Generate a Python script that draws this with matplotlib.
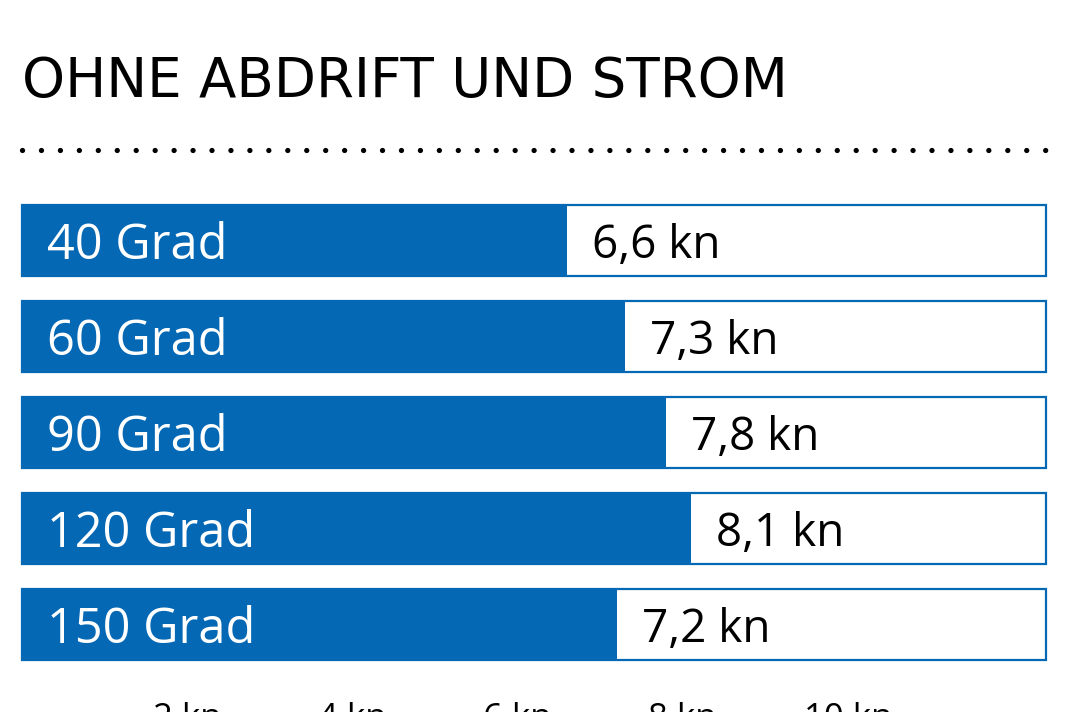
import matplotlib
matplotlib.use('Agg')
import matplotlib.pyplot as plt
from matplotlib.lines import Line2D

# Daten: Geschwindigkeit je Windeinfallswinkel
labels = ['40 Grad', '60 Grad', '90 Grad', '120 Grad', '150 Grad']
speeds = [6.6, 7.3, 7.8, 8.1, 7.2]
ticks = [2, 4, 6, 8, 10]
tick_labels = ['2 kn', '4 kn', '6 kn', '8 kn', '10 kn']
scale_max = 12.4

BLUE = '#0568b5'
W, H = 1068, 712

plt.rcParams['font.family'] = ['Open Sans', 'DejaVu Sans']

fig = plt.figure(figsize=(W / 100, H / 100), dpi=100)
fig.patch.set_facecolor('white')

# Titel
fig.text(22 / W, 1 - 97 / H, 'OHNE ABDRIFT UND STROM', fontsize=39.3,
         family='DejaVu Sans', color='black', ha='left', va='baseline')

# gepunktete Trennlinie
fig.add_artist(Line2D([22 / W, 1052 / W], [1 - 150 / H, 1 - 150 / H],
                      transform=fig.transFigure, color='black', lw=3.8,
                      linestyle=(0, (0.01, 3.58)), dash_capstyle='round'))

ax = fig.add_axes([22 / W, 52 / H, 1024 / W, 455 / H])
y = range(len(labels))
h = 0.74

# Rahmen und Balken
ax.barh(y, [scale_max] * len(labels), height=h, color='white',
        edgecolor=BLUE, linewidth=1.6, clip_on=False, zorder=1)
ax.barh(y, speeds, height=h, color=BLUE, linewidth=0, zorder=2)

for i, (lab, v) in enumerate(zip(labels, speeds)):
    ax.annotate(lab, (0, i), xytext=(18, 0), textcoords='offset points',
                ha='left', va='center_baseline', color='white', fontsize=35, zorder=3)
    ax.annotate(f'{v:.1f} kn'.replace('.', ','), (v, i), xytext=(18, 0),
                textcoords='offset points', ha='left', va='center_baseline',
                color='black', fontsize=33, zorder=3)

ax.set_xlim(0, scale_max)
ax.set_ylim(len(labels) - 1 + h / 2, -h / 2)
ax.set_xticks(ticks)
ax.set_xticklabels(tick_labels, fontsize=25)
ax.tick_params(axis='x', length=0, pad=30)
ax.set_yticks([])
for s in ax.spines.values():
    s.set_visible(False)

fig.savefig('out.png', dpi=100)
